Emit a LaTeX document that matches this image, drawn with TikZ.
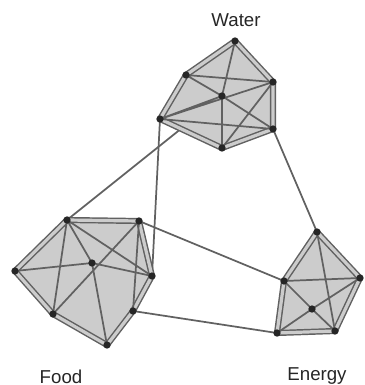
\documentclass[tikz,border=0pt]{standalone}
\usepackage{fontspec}
\setmainfont{Liberation Sans}
\usepackage{tikz}

\begin{document}
\begin{tikzpicture}[x=0.75pt, y=-0.75pt,
  every node/.style={font=\fontsize{14}{16}\selectfont},
  member/.style={line width=1.3pt, black!62},
  hull/.style={draw=black!62, line width=1.1pt, double=black!20, double distance=2.4pt, fill=black!20, line join=round},
  joint/.style={circle, fill=black!85, inner sep=0pt, minimum size=5.5pt},
  groupname/.style={anchor=base, text=black!85}
]
  \useasboundingbox (0,0) rectangle (364,385);

  % Knoten Wasser
  \coordinate (w1) at (235,41);
  \coordinate (w2) at (186,75);
  \coordinate (w3) at (273,82);
  \coordinate (w4) at (222,96);
  \coordinate (w5) at (160,119);
  \coordinate (w6) at (273,129);
  \coordinate (w7) at (222,148);

  % Knoten Nahrung
  \coordinate (f1) at (67,220);
  \coordinate (f2) at (139,221);
  \coordinate (f3) at (15,271);
  \coordinate (f4) at (92,263);
  \coordinate (f5) at (152,276);
  \coordinate (f6) at (53,314);
  \coordinate (f7) at (133,311);
  \coordinate (f8) at (107,345);

  % Knoten Energie
  \coordinate (e1) at (317,232);
  \coordinate (e2) at (284,281);
  \coordinate (e3) at (360,278);
  \coordinate (e4) at (312,309);
  \coordinate (e5) at (277,333);
  \coordinate (e6) at (335,331);

  % Verbindungen zwischen den Gruppen
  \draw[member] (f1) -- (w4);
  \draw[member] (w5) -- (f5);
  \draw[member] (w6) -- (e1);
  \draw[member] (f2) -- (e2);
  \draw[member] (f7) -- (e5);

  % Huellen
  \draw[hull] (w1) -- (w3) -- (w6) -- (w7) -- (w5) -- (w2) -- cycle;
  \draw[hull] (f1) -- (f2) -- (f5) -- (f7) -- (f8) -- (f6) -- (f3) -- cycle;
  \draw[hull] (e1) -- (e3) -- (e6) -- (e5) -- (e2) -- cycle;

  % Kanten innen
  \draw[member] (w1) -- (w4) (w2) -- (w3) (w2) -- (w4) (w4) -- (w6) (w4) -- (w7);
  \draw[member] (w5) -- (w4) (w5) -- (w3) (w5) -- (w6) (w3) -- (w7);
  \draw[member] (f1) -- (f4) (f1) -- (f6) (f1) -- (f5) (f2) -- (f6) (f2) -- (f7);
  \draw[member] (f3) -- (f4) (f4) -- (f5) (f4) -- (f8);
  \draw[member] (e1) -- (e6) (e2) -- (e3) (e2) -- (e4) (e4) -- (e6) (e5) -- (e4) (e4) -- (e3);

  % Punkte
  \foreach \p in {w1,w2,w3,w4,w5,w6,w7,f1,f2,f3,f4,f5,f6,f7,f8,e1,e2,e3,e4,e5,e6}
    \node[joint] (\p dot) at (\p) {};

  % Beschriftung
  \node[groupname] (water) at (236,27) {Water};
  \node[groupname] (food) at (61,383) {Food};
  \node[groupname] (energy) at (317,380) {Energy};
\end{tikzpicture}
\end{document}
